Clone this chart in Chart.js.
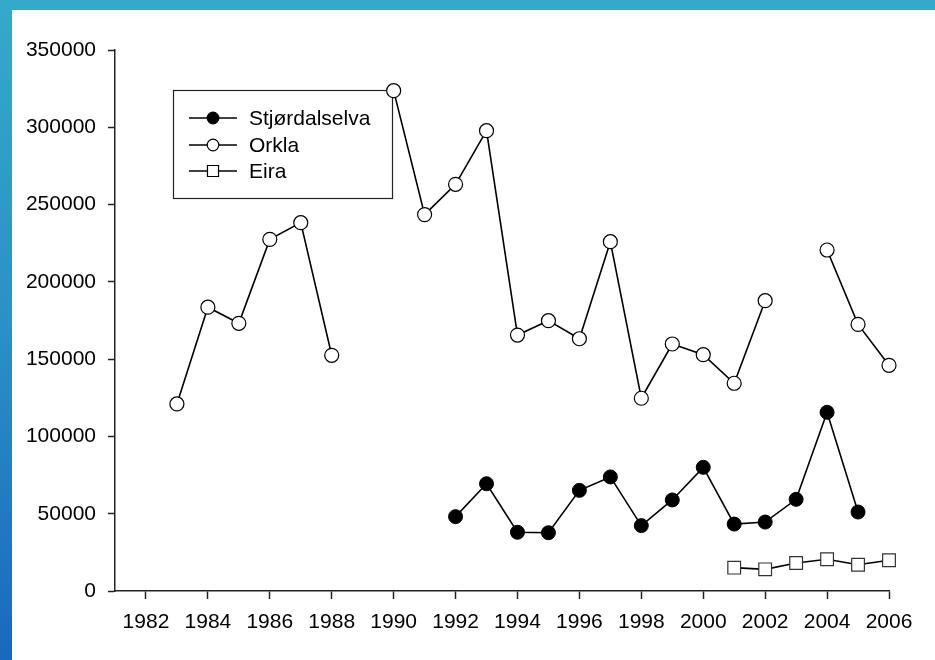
<!DOCTYPE html>
<html>
<head>
<meta charset="utf-8">
<script src="https://cdn.jsdelivr.net/npm/chart.js@4.4.0/dist/chart.umd.min.js"></script>
<style>
  html, body { margin: 0; padding: 0; }
  body {
    width: 935px; height: 660px; overflow: hidden;
    background: linear-gradient(to bottom, #34aac9 0%, #2a90c6 50%, #1a68bf 100%);
    position: relative;
  }
  #wrap {
    position: absolute; left: 12px; top: 10px;
    width: 923px; height: 650px; background: #fff;
  }
</style>
</head>
<body>
<div id="wrap"><canvas id="chart" width="923" height="650"></canvas></div>
<script>
// data
var years = [1983, 1984, 1985, 1986, 1987, 1988, 1989, 1990, 1991, 1992, 1993, 1994,
             1995, 1996, 1997, 1998, 1999, 2000, 2001, 2002, 2003, 2004, 2005, 2006];
var stjordalselva = [null, null, null, null, null, null, null, null, null, 48100, 69400, 38000,
                     37700, 65100, 73800, 42300, 58900, 80000, 43300, 44600, 59300, 115600, 51100, null];
var orkla = [121000, 183600, 173200, 227500, 238300, 152500, null, 323700, 243500, 263100, 297800, 165600,
             174900, 163200, 226000, 124700, 159800, 152900, 134400, 187800, null, 220600, 172500, 146000];
var eira = [null, null, null, null, null, null, null, null, null, null, null, null,
            null, null, null, null, null, null, 15100, 14000, 18100, 20500, 17000, 19900];
var seriesNames = ["Stjørdalselva", "Orkla", "Eira"];
var xTicks = [1982, 1984, 1986, 1988, 1990, 1992, 1994, 1996, 1998, 2000, 2002, 2004, 2006];
var yTicks = [0, 50000, 100000, 150000, 200000, 250000, 300000, 350000];

var FONT = { family: "'Liberation Sans', Arial, sans-serif", size: 21 };

function toPoints(vals) {
  return years.map(function (yr, i) { return { x: yr, y: vals[i] }; });
}

// legend drawn as a framed box inside the plot, under the data marks
var boxLegend = {
  id: 'boxLegend',
  beforeDatasetsDraw: function (chart) {
    var ctx = chart.ctx;
    var left = 161, top = 80, w = 219, h = 108;
    ctx.save();
    ctx.fillStyle = '#fff';
    ctx.fillRect(left, top, w, h);
    ctx.strokeStyle = '#222';
    ctx.lineWidth = 1.2;
    ctx.strokeRect(left + 0.5, top + 0.5, w, h);
    var rows = [108, 135, 161];
    chart.data.datasets.forEach(function (ds, i) {
      var y = rows[i];
      ctx.strokeStyle = '#000';
      ctx.lineWidth = 1.5;
      ctx.beginPath();
      ctx.moveTo(177, y);
      ctx.lineTo(225, y);
      ctx.stroke();
      ctx.fillStyle = ds.pointBackgroundColor;
      ctx.strokeStyle = '#000';
      ctx.lineWidth = 1.2;
      Chart.helpers.drawPoint(ctx, {
        pointStyle: ds.pointStyle,
        radius: ds.pointStyle === 'rect' ? 7.8 : 5.8,
        borderWidth: 1.2
      }, 201, y);
      ctx.fillStyle = '#000';
      ctx.font = FONT.size + 'px ' + FONT.family;
      ctx.textBaseline = 'middle';
      ctx.textAlign = 'left';
      ctx.fillText(ds.label, 237, y + 1);
    });
    ctx.restore();
  }
};

var ctx = document.getElementById('chart');
var chart = new Chart(ctx, {
  type: 'line',
  data: {
    datasets: [
      {
        label: seriesNames[0],
        data: toPoints(stjordalselva),
        borderColor: '#000', borderWidth: 1.6,
        pointStyle: 'circle', pointRadius: 7, pointHoverRadius: 7,
        pointBackgroundColor: '#000', pointBorderColor: '#000', pointBorderWidth: 1
      },
      {
        label: seriesNames[1],
        data: toPoints(orkla),
        borderColor: '#000', borderWidth: 1.6,
        pointStyle: 'circle', pointRadius: 7, pointHoverRadius: 7,
        pointBackgroundColor: '#fff', pointBorderColor: '#000', pointBorderWidth: 1.2
      },
      {
        label: seriesNames[2],
        data: toPoints(eira),
        borderColor: '#000', borderWidth: 1.6,
        pointStyle: 'rect', pointRadius: 9, pointHoverRadius: 9,
        pointBackgroundColor: '#fff', pointBorderColor: '#333', pointBorderWidth: 1.2
      }
    ]
  },
  options: {
    responsive: false,
    animation: false,
    spanGaps: false,
    clip: false,
    layout: { padding: { top: 40, right: 46, left: 0, bottom: 0 } },
    plugins: { legend: { display: false }, tooltip: { enabled: false } },
    scales: {
      x: {
        type: 'linear',
        min: 1981, max: 2006,
        afterBuildTicks: function (scale) {
          scale.ticks = xTicks.map(function (v) { return { value: v }; });
        },
        afterFit: function (scale) { scale.height = 69; },
        border: { display: true, color: '#222', width: 1.5 },
        grid: { display: true, drawOnChartArea: false, drawTicks: true, tickLength: 8, tickColor: '#222', tickWidth: 1.5 },
        ticks: {
          color: '#000', font: FONT, padding: 11, maxRotation: 0, autoSkip: false,
          callback: function (v) { return String(v); }
        }
      },
      y: {
        type: 'linear',
        min: 0, max: 350000,
        afterBuildTicks: function (scale) {
          scale.ticks = yTicks.map(function (v) { return { value: v }; });
        },
        afterFit: function (scale) { scale.width = 103; },
        border: { display: true, color: '#222', width: 1.5 },
        grid: { display: true, drawOnChartArea: false, drawTicks: true, tickLength: 7, tickColor: '#222', tickWidth: 1.5 },
        ticks: {
          color: '#000', font: FONT, padding: 12, autoSkip: false,
          callback: function (v) { return String(v); }
        }
      }
    }
  },
  plugins: [boxLegend]
});
</script>
</body>
</html>
